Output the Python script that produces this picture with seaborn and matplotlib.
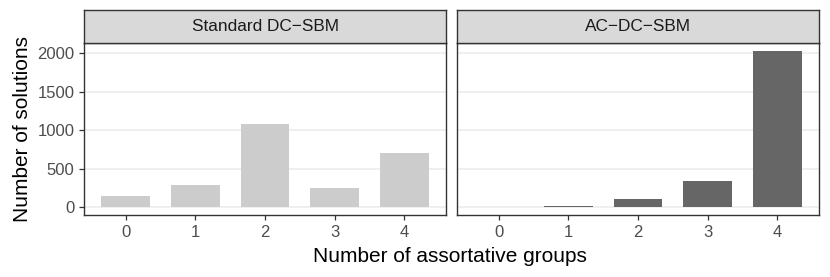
import matplotlib
matplotlib.use("Agg")
import matplotlib.pyplot as plt
import seaborn as sns
import pandas as pd

# data
groups = [0, 1, 2, 3, 4]
standard_counts = [151, 287, 1085, 248, 706]
ac_counts = [5, 13, 104, 338, 2028]
panel_titles = ["Standard DC\u2212SBM", "AC\u2212DC\u2212SBM"]
bar_colors = ["#CCCCCC", "#666666"]
y_ticks = [0, 500, 1000, 1500, 2000]

df = pd.concat([
    pd.DataFrame({"groups": groups, "count": standard_counts, "model": panel_titles[0]}),
    pd.DataFrame({"groups": groups, "count": ac_counts, "model": panel_titles[1]}),
])

sns.set_theme(style="white")
plt.rcParams["font.family"] = ["Liberation Sans", "DejaVu Sans"]

fig, axes = plt.subplots(1, 2, figsize=(8.3, 2.77), dpi=100, sharey=True)
fig.subplots_adjust(left=0.1012, right=0.9867, bottom=0.224, top=0.8437, wspace=0.03)

for ax, title, color in zip(axes, panel_titles, bar_colors):
    sub = df[df["model"] == title]
    sns.barplot(data=sub, x="groups", y="count", order=groups, color=color,
                width=0.7, saturation=1, ax=ax, edgecolor="none")
    ax.set_xlim(-0.6, 4.6)
    ax.set_ylim(-101, 2129)
    ax.set_yticks(y_ticks)
    ax.grid(axis="y", color="#EBEBEB", linewidth=1.1, zorder=0)
    ax.set_axisbelow(True)
    for sp in ax.spines.values():
        sp.set_visible(True)
        sp.set_color("#333333")
        sp.set_linewidth(1.0)
    ax.tick_params(axis="both", which="major", length=3.5, width=0.9,
                   color="#333333", labelcolor="#4D4D4D", labelsize=12,
                   direction="out", bottom=True, left=True, pad=3.5)
    ax.set_xlabel("")
    ax.set_ylabel("")

    # facet strip above the panel
    pos = ax.get_position()
    strip = fig.add_axes([pos.x0, pos.y1, pos.width, 33 / 277])
    strip.set_facecolor("#D9D9D9")
    strip.set_xticks([])
    strip.set_yticks([])
    for sp in strip.spines.values():
        sp.set_color("#333333")
        sp.set_linewidth(1.0)
    strip.text(0.5, 0.5, title, ha="center", va="center", fontsize=12.4,
               color="#1A1A1A", transform=strip.transAxes)

axes[1].tick_params(axis="y", labelleft=False, left=False)
axes[0].set_ylabel("Number of solutions", fontsize=15, color="black", labelpad=4)
fig.text(0.5426, 0.04, "Number of assortative groups", ha="center", va="bottom",
         fontsize=15, color="black")

fig.savefig("out.png", dpi=100)
